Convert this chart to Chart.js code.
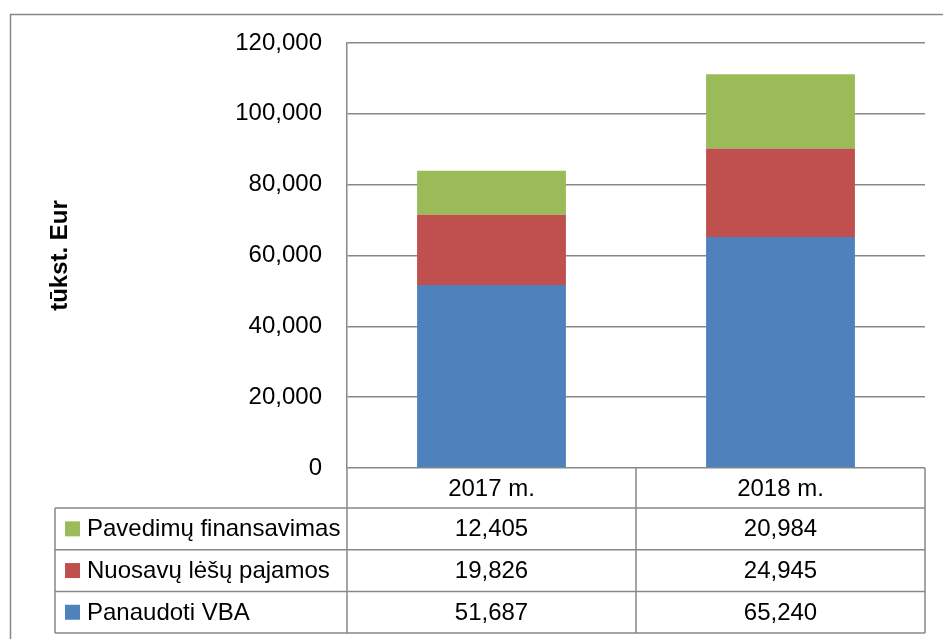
<!DOCTYPE html>
<html>
<head>
<meta charset="utf-8">
<script src="https://cdn.jsdelivr.net/npm/chart.js@4/dist/chart.umd.min.js"></script>
<style>
  html, body { margin: 0; padding: 0; background: #fff; }
  #wrap { position: relative; width: 943px; height: 639px; }
</style>
</head>
<body>
<div id="wrap"><canvas id="c" width="943" height="639"></canvas></div>
<script>
const categories = ["2017 m.", "2018 m."];
const seriesNames = ["Panaudoti VBA", "Nuosavų lėšų pajamos", "Pavedimų finansavimas"];
const panaudotiVBA = [51687, 65240];
const nuosavuLesuPajamos = [19826, 24945];
const pavedimuFinansavimas = [12405, 20984];
const yTicks = [0, 20000, 40000, 60000, 80000, 100000, 120000];
const axisTitle = "tūkst. Eur";

const colors = ["#4F81BD", "#C0504D", "#9BBB59"];
const lineGray = "#888888";
const FONT = "'Liberation Sans', Arial, sans-serif";

const fmt = v => Number(v).toLocaleString('en-US');

const seriesValues = [panaudotiVBA, nuosavuLesuPajamos, pavedimuFinansavimas];

const datasets = seriesNames.map((name, i) => ({
  label: name,
  data: seriesValues[i],
  backgroundColor: colors[i],
  borderWidth: 0,
  barPercentage: 0.515,
  categoryPercentage: 1.0
}));

const frameAndTable = {
  id: 'frameAndTable',
  beforeDraw(chart) {
    const ctx = chart.ctx;
    ctx.save();
    ctx.fillStyle = '#fff';
    ctx.fillRect(0, 0, chart.width, chart.height);
    ctx.strokeStyle = lineGray;
    ctx.lineWidth = 1.5;
    ctx.strokeRect(10.5, 14.5, 2000, 2000);
    ctx.restore();
  },
  afterDraw(chart) {
    const ctx = chart.ctx;
    const xs = chart.scales.x;
    const area = chart.chartArea;
    const left = area.left, right = area.right;
    const top = area.bottom;
    const headerH = 40;
    const rowH = 41.7;
    const legendLeft = 55;
    const nRows = seriesNames.length;
    const bottom = top + headerH + rowH * nRows;

    const bounds = [left];
    for (let i = 0; i < categories.length - 1; i++) {
      bounds.push((xs.getPixelForValue(i) + xs.getPixelForValue(i + 1)) / 2);
    }
    bounds.push(right);

    ctx.save();
    ctx.strokeStyle = lineGray;
    ctx.lineWidth = 1.5;
    ctx.beginPath();
    bounds.forEach(b => { ctx.moveTo(b, top); ctx.lineTo(b, bottom); });
    ctx.moveTo(legendLeft, top + headerH); ctx.lineTo(legendLeft, bottom);
    for (let r = 0; r <= nRows; r++) {
      const y = top + headerH + rowH * r;
      ctx.moveTo(legendLeft, y); ctx.lineTo(right, y);
    }
    ctx.stroke();

    ctx.fillStyle = '#000';
    ctx.font = "24px " + FONT;
    ctx.textBaseline = 'middle';
    ctx.textAlign = 'center';
    categories.forEach((c, i) => {
      ctx.fillText(c, xs.getPixelForValue(i), top + headerH / 2 + 1);
    });
    for (let r = 0; r < nRows; r++) {
      const si = nRows - 1 - r;
      const cy = top + headerH + rowH * r + rowH / 2;
      ctx.fillStyle = colors[si];
      ctx.fillRect(65, cy - 7.5, 15, 15);
      ctx.fillStyle = '#000';
      ctx.textAlign = 'left';
      ctx.fillText(seriesNames[si], 87, cy + 1);
      ctx.textAlign = 'center';
      seriesValues[si].forEach((v, i) => {
        ctx.fillText(fmt(v), xs.getPixelForValue(i), cy + 1);
      });
    }
    ctx.restore();
  }
};

new Chart(document.getElementById('c'), {
  type: 'bar',
  data: { labels: categories, datasets },
  options: {
    responsive: false,
    animation: false,
    devicePixelRatio: 1,
    layout: { padding: { left: 0, top: 43, right: 18, bottom: 171 } },
    plugins: {
      legend: { display: false },
      tooltip: { enabled: false },
      title: { display: false }
    },
    scales: {
      x: {
        display: false,
        stacked: true
      },
      y: {
        stacked: true,
        min: 0,
        max: 120000,
        afterBuildTicks(scale) { scale.ticks = yTicks.map(v => ({ value: v })); },
        afterFit(scale) { scale.width = 347; },
        ticks: {
          padding: 25,
          color: '#000',
          font: { family: FONT, size: 24 },
          callback: v => fmt(v)
        },
        grid: { color: lineGray, lineWidth: 1.5, drawTicks: false },
        border: { display: true, color: lineGray, width: 1.5 },
        title: {
          display: true,
          text: axisTitle,
          color: '#000',
          font: { family: FONT, size: 24, weight: 'bold' },
          padding: { top: 46, bottom: 0 }
        }
      }
    }
  },
  plugins: [frameAndTable]
});
</script>
</body>
</html>
